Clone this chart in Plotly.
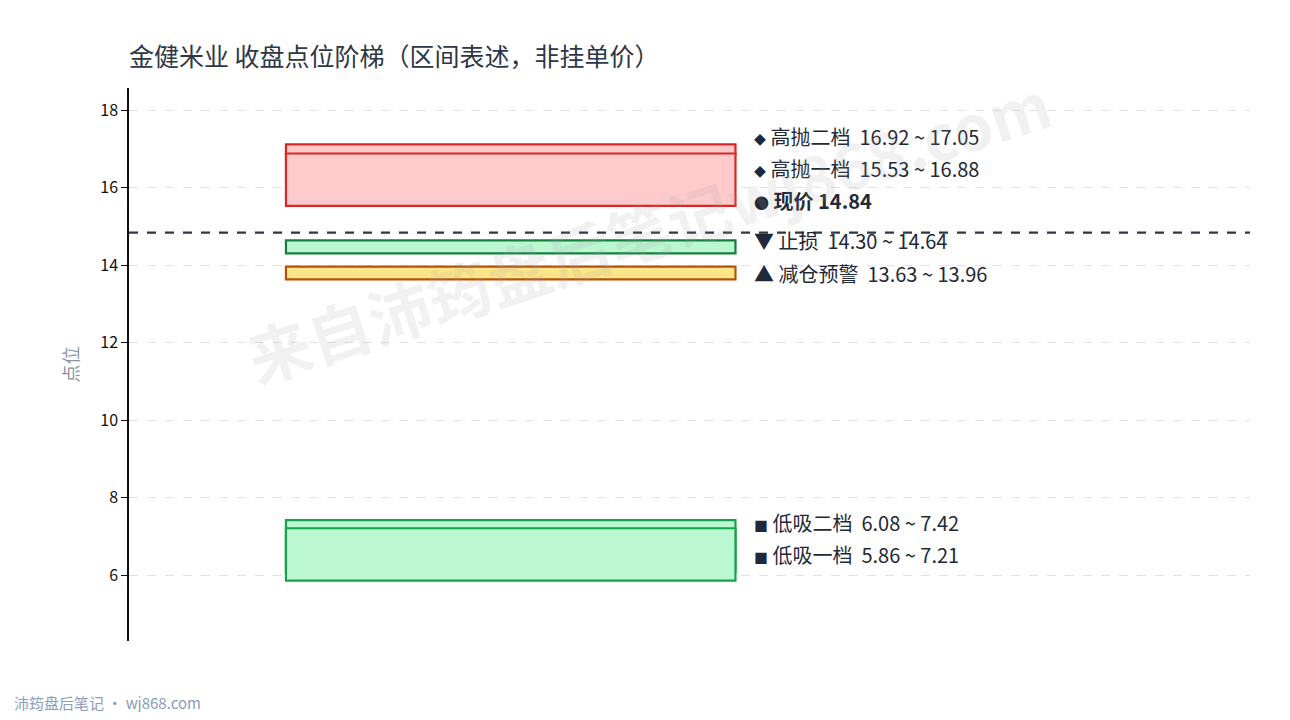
import plotly.graph_objects as go

# 区间数据
names = ["低吸一档", "低吸二档", "减仓预警", "止损", "高抛一档", "高抛二档"]
lows = [5.86, 6.08, 13.63, 14.30, 15.53, 16.92]
highs = [7.21, 7.42, 13.96, 14.64, 16.88, 17.05]
symbols = ["■", "■", "▲", "▼", "◆", "◆"]
fills = ["#bbf7d0", "#bbf7d0", "#fde68a", "#bbf7d0", "#fecaca", "#fecaca"]
lines = ["#16a34a", "#16a34a", "#b45309", "#15803d", "#dc2626", "#dc2626"]
price = 14.84
yticks = [6, 8, 10, 12, 14, 16, 18]

FONT = "Noto Sans CJK SC"
# 页面 body 自带 8px 边距，图整体往左上收一点
W, H = 1274, 704
L, T, R, B = 121, 80, 32, 71
PW, PH = W - L - R, H - T - B

fig = go.Figure()

# 画框（二档先画，一档盖在上面）
draw_order = [1, 0, 2, 3, 5, 4]
for i in draw_order:
    lo, hi = lows[i], highs[i]
    if hi - lo < 0.26:
        mid = (lo + hi) / 2
        lo, hi = mid - 0.13, mid + 0.13
    fig.add_shape(type="rect", xref="x", yref="y", x0=0.14, x1=0.541, y0=lo, y1=hi,
                  fillcolor=fills[i], line=dict(color=lines[i], width=2.2), layer="above")

# 现价虚线
fig.add_shape(type="line", xref="paper", yref="y", x0=0, x1=1, y0=price, y1=price,
              line=dict(color="#2d3748", width=2.2, dash="dash"), layer="above")

# 标签：按中点自下而上排开，避免重叠
items = [((lows[i] + highs[i]) / 2,
          "%s %s&nbsp;&nbsp;%.2f ~ %.2f" % (symbols[i], names[i], lows[i], highs[i]), False)
         for i in range(len(names))]
items.append((price, "<span style='font-size:15px'>●</span> <b>现价 %.2f</b>" % price, True))
items.sort(key=lambda t: t[0])
prev = None
for mid, txt, is_price in items:
    gap = 1.03 if is_price else 0.83
    y = mid if prev is None else max(mid, prev + gap)
    if prev is not None and mid - prev > 3:
        y = mid
    prev = y
    txt = txt.replace("◆", "<span style='font-size:12px'>◆</span>").replace("■", "<span style='font-size:14px'>■</span>")
    fig.add_annotation(x=0.556, y=y, xref="x", yref="y", text=txt, showarrow=False,
                       xanchor="left", yanchor="middle",
                       font=dict(family=FONT, size=20, color="#1f2937"))

# 水印
fig.add_annotation(x=(640 - L) / PW, y=1 - (220 - T) / PH, xref="paper", yref="paper",
                   text="<b>来自沛筠盘后笔记wj868.com</b>",
                   showarrow=False, textangle=-18, xanchor="center", yanchor="middle",
                   font=dict(family=FONT, size=63, color="rgba(160,160,170,0.15)"))
# 页脚
fig.add_annotation(x=(4 - L) / PW, y=-(694 - (H - B)) / PH, xref="paper", yref="paper",
                   text="沛筠盘后笔记 · wj868.com", showarrow=False,
                   font=dict(family=FONT, size=15, color="#8a9bbb"), xanchor="left", yanchor="middle")

fig.update_xaxes(range=[0, 1], visible=False)
fig.update_yaxes(range=[4.3, 18.57], tickvals=yticks, showline=True, linecolor="#111", linewidth=1.5,
                 ticks="outside", ticklen=6, tickcolor="#111", tickfont=dict(family=FONT, size=16, color="#111"),
                 showgrid=True, gridcolor="#e2e2e2", griddash="dash", gridwidth=1, zeroline=False,
                 automargin=False,
                 title=dict(text="点位", font=dict(family=FONT, size=18, color="#8a94a6"), standoff=17))
fig.update_layout(width=W, height=H, plot_bgcolor="white", paper_bgcolor="white",
                  margin=dict(l=L, r=R, t=T, b=B, autoexpand=False), showlegend=False,
                  title=dict(text="金健米业 收盘点位阶梯（区间表述，非挂单价）", x=L / W, xanchor="left",
                             y=1 - 49 / H, yanchor="middle",
                             font=dict(family=FONT, size=25, color="#2d3748")))
fig.write_html("out.html")
